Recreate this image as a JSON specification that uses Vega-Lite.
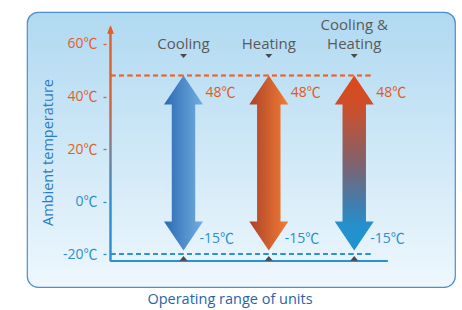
{
  "$schema": "https://vega.github.io/schema/vega-lite/v6.json",
  "autosize": "none",
  "width": 428,
  "height": 275,
  "padding": {"left": 27, "top": 12, "right": 7, "bottom": 23},
  "background": "#ffffff",
  "view": {
    "fill": {"gradient": "linear", "x1": 0, "y1": 0, "x2": 0, "y2": 1, "stops": [{"offset": 0, "color": "#b0d9f1"}, {"offset": 1, "color": "#eef7fd"}]},
    "stroke": "#4b8fcc",
    "strokeWidth": 1.2,
    "cornerRadius": 11
  },
  "title": {"text": "Operating range of units", "orient": "bottom", "anchor": "middle", "color": "#2465ad", "fontSize": 14.5, "fontWeight": "normal", "font": "Open Sans", "offset": 6, "dx": -11},
  "data": {"values": [
    {"unit": "Cooling", "slot": 1, "label": ["Cooling"], "max": 48, "min": -15, "hi": "48℃", "lo": "-15℃"},
    {"unit": "Heating", "slot": 2, "label": ["Heating"], "max": 48, "min": -15, "hi": "48℃", "lo": "-15℃"},
    {"unit": "Cooling & Heating", "slot": 3, "label": ["Cooling &", "Heating"], "max": 48, "min": -15, "hi": "48℃", "lo": "-15℃"}
  ]},
  "layer": [
    {
      "mark": {"type": "rule", "stroke": "#e8642c", "strokeWidth": 1.5, "strokeDash": [5, 3.5]},
      "encoding": {
        "x": {"datum": 0, "type": "quantitative", "scale": {"domain": [0, 1, 2, 3], "range": [79, 156.5, 241.8, 332.5], "nice": false, "zero": false}, "axis": null},
        "x2": {"datum": 3.204},
        "y": {"datum": 48, "type": "quantitative", "scale": {"domain": [-32.57, 72.19], "nice": false, "zero": false},
          "axis": {
            "values": [-20, -10, 0, 10, 20, 30, 40, 50, 60],
            "labelExpr": "datum.value % 20 == 0 ? datum.value + '℃' : ''",
            "offset": -79,
            "domain": false,
            "grid": false,
            "tickSize": 3,
            "tickWidth": 1.3,
            "tickColor": {"condition": [{"test": "datum.value >= 40", "value": "#e0602a"}, {"test": "datum.value >= 30", "value": "#b0675a"}, {"test": "datum.value >= 20", "value": "#7d7f8e"}, {"test": "datum.value >= 10", "value": "#5a84ad"}], "value": "#2b8fd2"},
            "labelColor": {"condition": {"test": "datum.value >= 20", "value": "#e0602a"}, "value": "#2b8fd2"},
            "labelFont": "Open Sans, Noto Sans CJK SC",
            "labelFontSize": 14,
            "labelPadding": 6,
            "title": "Ambient temperature",
            "titleColor": "#2b7cc4",
            "titleFont": "Open Sans",
            "titleFontSize": 14.5,
            "titleFontWeight": "normal",
            "titleX": -51,
            "titleY": 140
          }}
      }
    },
    {
      "mark": {"type": "rule", "stroke": "#2b91d3", "strokeWidth": 1.5, "strokeDash": [5, 3.5]},
      "encoding": {
        "x": {"datum": 0, "type": "quantitative", "axis": null},
        "x2": {"datum": 3.204},
        "y": {"datum": -20, "type": "quantitative"}
      }
    },
    {
      "mark": {"type": "rule", "stroke": "#2b8fd0", "strokeWidth": 1.6},
      "encoding": {
        "x": {"datum": 0, "type": "quantitative", "axis": null},
        "x2": {"datum": 3.39},
        "y": {"datum": -22.7, "type": "quantitative"}
      }
    },
    {
      "mark": {"type": "bar", "size": 1.7, "fill": {"gradient": "linear", "x1": 0, "y1": 0, "x2": 0, "y2": 1, "stops": [{"offset": 0, "color": "#e0602a"}, {"offset": 0.3, "color": "#d8622e"}, {"offset": 0.51, "color": "#7d7f8e"}, {"offset": 0.76, "color": "#2b8fd2"}, {"offset": 1, "color": "#2b8fd2"}]}},
      "encoding": {
        "x": {"datum": 0, "type": "quantitative", "axis": null},
        "y": {"datum": 65, "type": "quantitative"},
        "y2": {"datum": -22.7}
      }
    },
    {
      "mark": {"type": "point", "shape": "M0,-1L0.75,1L-0.75,1Z", "size": 64, "filled": true, "fill": "#e0602a", "strokeWidth": 0, "opacity": 1},
      "encoding": {
        "x": {"datum": 0, "type": "quantitative", "axis": null},
        "y": {"datum": 65.5, "type": "quantitative"}
      }
    },
    {
      "transform": [{"filter": "datum.unit == 'Cooling'"}],
      "mark": {"type": "point", "shape": "M0,0L0.223,0.331L0.134,0.331L0.134,1.669L0.223,1.669L0,2L-0.223,1.669L-0.134,1.669L-0.134,0.331L-0.223,0.331Z", "size": 30625, "filled": true, "strokeWidth": 0, "opacity": 1,
        "fill": {"gradient": "linear", "x1": 0, "y1": 0, "x2": 1, "y2": 0, "stops": [{"offset": 0, "color": "#2a6ab3"}, {"offset": 1, "color": "#74aedf"}]}},
      "encoding": {
        "x": {"field": "slot", "type": "quantitative", "axis": null},
        "y": {"field": "max", "type": "quantitative"}
      }
    },
    {
      "transform": [{"filter": "datum.unit == 'Heating'"}],
      "mark": {"type": "point", "shape": "M0,0L0.223,0.331L0.134,0.331L0.134,1.669L0.223,1.669L0,2L-0.223,1.669L-0.134,1.669L-0.134,0.331L-0.223,0.331Z", "size": 30625, "filled": true, "strokeWidth": 0, "opacity": 1,
        "fill": {"gradient": "linear", "x1": 0, "y1": 0, "x2": 1, "y2": 0, "stops": [{"offset": 0, "color": "#ad4229"}, {"offset": 1, "color": "#f27d34"}]}},
      "encoding": {
        "x": {"field": "slot", "type": "quantitative", "axis": null},
        "y": {"field": "max", "type": "quantitative"}
      }
    },
    {
      "transform": [{"filter": "datum.unit == 'Cooling & Heating'"}],
      "mark": {"type": "point", "shape": "M0,0L0.223,0.331L0.134,0.331L0.134,1.669L0.223,1.669L0,2L-0.223,1.669L-0.134,1.669L-0.134,0.331L-0.223,0.331Z", "size": 30625, "filled": true, "strokeWidth": 0, "opacity": 1,
        "fill": {"gradient": "linear", "x1": 0, "y1": 0, "x2": 0, "y2": 1, "stops": [{"offset": 0, "color": "#de4818"}, {"offset": 0.2, "color": "#c9502e"}, {"offset": 0.5, "color": "#80626e"}, {"offset": 0.75, "color": "#3c80b2"}, {"offset": 0.86, "color": "#2590cc"}, {"offset": 1, "color": "#1e94d4"}]}},
      "encoding": {
        "x": {"field": "slot", "type": "quantitative", "axis": null},
        "y": {"field": "max", "type": "quantitative"}
      }
    },
    {
      "mark": {"type": "point", "shape": "M-1,-0.6L1,-0.6L0,0.6Z", "size": 49, "filled": true, "fill": "#4a4a4a", "strokeWidth": 0, "opacity": 1, "yOffset": -19.5},
      "encoding": {
        "x": {"field": "slot", "type": "quantitative", "axis": null},
        "y": {"field": "max", "type": "quantitative"}
      }
    },
    {
      "mark": {"type": "point", "shape": "M-1,0.6L1,0.6L0,-0.6Z", "size": 64, "filled": true, "fill": "#4a4a4a", "strokeWidth": 0, "opacity": 1, "yOffset": 17.5},
      "encoding": {
        "x": {"field": "slot", "type": "quantitative", "axis": null},
        "y": {"field": "min", "type": "quantitative"}
      }
    },
    {
      "transform": [{"filter": "datum.slot < 3"}],
      "mark": {"type": "text", "font": "Open Sans", "fontSize": 15, "color": "#5a5a5a", "align": "center", "baseline": "alphabetic", "dy": -26.5, "lineHeight": 19},
      "encoding": {
        "x": {"field": "slot", "type": "quantitative", "axis": null},
        "y": {"field": "max", "type": "quantitative"},
        "text": {"field": "label"}
      }
    },
    {
      "transform": [{"filter": "datum.slot == 3"}],
      "mark": {"type": "text", "font": "Open Sans", "fontSize": 15, "color": "#5a5a5a", "align": "center", "baseline": "alphabetic", "dy": -45.5, "lineHeight": 19},
      "encoding": {
        "x": {"field": "slot", "type": "quantitative", "axis": null},
        "y": {"field": "max", "type": "quantitative"},
        "text": {"field": "label"}
      }
    },
    {
      "mark": {"type": "text", "font": "Open Sans, Noto Sans CJK SC", "fontSize": 14, "color": "#e05a22", "align": "left", "baseline": "middle", "dx": 22, "dy": 18},
      "encoding": {
        "x": {"field": "slot", "type": "quantitative", "axis": null},
        "y": {"field": "max", "type": "quantitative"},
        "text": {"field": "hi"}
      }
    },
    {
      "mark": {"type": "text", "font": "Open Sans, Noto Sans CJK SC", "fontSize": 14, "color": "#2a8fd0", "align": "left", "baseline": "middle", "dx": 16, "dy": -2},
      "encoding": {
        "x": {"field": "slot", "type": "quantitative", "axis": null},
        "y": {"field": "min", "type": "quantitative"},
        "text": {"field": "lo"}
      }
    }
  ]
}
